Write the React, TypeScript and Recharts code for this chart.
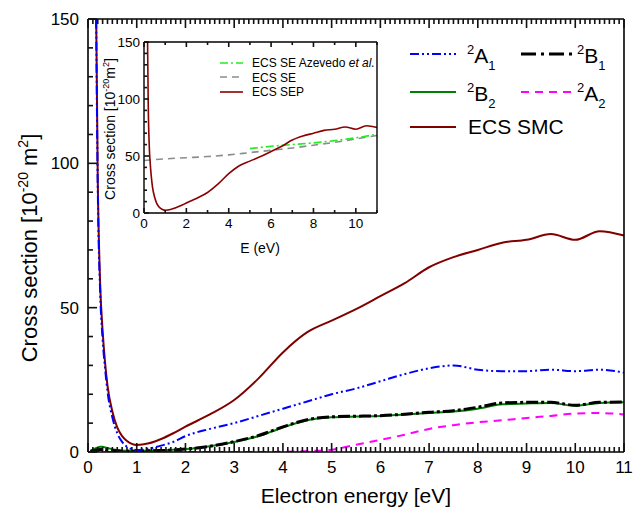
import { LineChart, Line, XAxis, YAxis } from 'recharts'

const FONT = '"Liberation Sans", Arial, Helvetica, sans-serif'

// main panel: energy grid (eV) and cross sections (10^-20 m^2)
const ENERGY = [0.05, 0.16, 0.2, 0.25, 0.3, 0.35, 0.4, 0.5, 0.6, 0.7, 0.8, 0.9, 1.0, 1.25, 1.5, 1.75, 2, 2.5, 3, 3.5, 4, 4.5, 5, 5.5, 6, 6.5, 7, 7.5, 8, 8.5, 9, 9.5, 10, 10.5, 11]
const ECS_SMC = [null, 165, 95, 58, 42, 31, 23, 14, 8.5, 5.5, 3.8, 2.8, 2.4, 3.0, 4.5, 6.5, 8.8, 13, 18, 25.5, 34.5, 41.5, 45.5, 49.5, 54, 58.5, 64, 67.5, 70, 72.5, 73.5, 75.5, 73.5, 76.5, 75]
const A1 = [null, 165, 92, 55, 39, 29, 21, 12, 6.5, 3.5, 1.8, 1.0, 0.7, 1.2, 2.2, 3.5, 5.5, 8, 10, 12.5, 15, 17.5, 20, 22, 24.5, 27, 29, 30, 28.5, 28, 28, 28.5, 28, 28.5, 27.5]
const B1 = [0.2, 0.6, 0.8, 0.9, 0.9, 0.8, 0.7, 0.5, 0.4, 0.3, 0.3, 0.3, 0.3, 0.4, 0.5, 0.7, 1.0, 2.0, 3.6, 5.7, 8.7, 11.2, 12.2, 12.4, 12.6, 13.1, 13.8, 14.3, 15.5, 17, 17.2, 17.2, 16.2, 17.2, 17.3]
const B2 = [0.5, 1.3, 1.6, 1.8, 1.8, 1.6, 1.4, 1.0, 0.7, 0.5, 0.4, 0.4, 0.4, 0.5, 0.6, 0.8, 1.0, 2.0, 3.5, 5.5, 8.5, 11, 12, 12.3, 12.5, 13, 13.5, 14, 15, 16.5, 16.8, 17, 16, 17, 17.2]
const A2 = [0, 0, 0, 0, 0, 0, 0, 0, 0, 0, 0, 0, 0, 0, 0, 0, 0, 0, 0, 0, 0.1, 0.3, 0.8, 2.5, 4.2, 6, 8, 9.3, 10.3, 11, 11.8, 12.5, 13.3, 13.5, 13]

// inset: static-exchange results
const SE_ENERGY = [0, 1, 2, 3, 4, 5, 6, 7, 8, 9, 10, 11]
const ECS_SE = [46, 47.5, 48.5, 49.5, 51, 53, 55, 57, 59.5, 62, 65, 68]
const AZ_ENERGY = [5, 6, 7, 8, 9, 10, 11]
const ECS_SE_AZEVEDO = [56.5, 58.5, 60, 61.5, 63.5, 66, 69]

const MAIN_X_LABELS = [0, 1, 2, 3, 4, 5, 6, 7, 8, 9, 10, 11]
const MAIN_Y_LABELS = [0, 50, 100, 150]
const INSET_X_LABELS = [0, 2, 4, 6, 8, 10]
const INSET_Y_LABELS = [0, 50, 100, 150]

const steps = (max: number, step: number) =>
  Array.from({ length: Math.round(max / step) + 1 }, (_, i) => +(i * step).toFixed(2))

const MAIN_X_TICKS = steps(11, 0.1)
const MAIN_Y_TICKS = steps(150, 10)
const INSET_X_TICKS = steps(11, 1)
const INSET_Y_TICKS = steps(150, 10)

const mainData = ENERGY.map((e, i) => ({ e, smc: ECS_SMC[i], a1: A1[i], b1: B1[i], b2: B2[i], a2: A2[i] }))
const seData = SE_ENERGY.map((e, i) => ({ e, se: ECS_SE[i] }))
const azData = AZ_ENERGY.map((e, i) => ({ e, az: ECS_SE_AZEVEDO[i] }))

type Side = 'bottom' | 'top' | 'left' | 'right'

// draws an inward tick for every entry, with a label on majors (bottom/left only)
const tick = (side: Side, labels: number[], minor: number, major: number, fontSize: number, gap: number) =>
  (props: any) => {
    const v = Number(props.payload.value)
    const isMajor = labels.some((l) => Math.abs(l - v) < 1e-6)
    const x = Number(props.x)
    const y = Number(props.y)
    const len = isMajor ? major : minor
    const w = 1.6
    let r
    if (side === 'bottom') r = { x: x - w / 2, y: y - len, width: w, height: len }
    else if (side === 'top') r = { x: x - w / 2, y, width: w, height: len }
    else if (side === 'left') r = { x, y: y - w / 2, width: len, height: w }
    else r = { x: x - len, y: y - w / 2, width: len, height: w }
    return (
      <g className="axis-tick">
        <rect x={r.x} y={r.y} width={r.width} height={r.height} fill="#111" stroke="none" />
        {isMajor && side === 'bottom' && (
          <text x={x} y={y + gap + fontSize * 0.72} textAnchor="middle" fontSize={fontSize} fill="#000">{v}</text>
        )}
        {isMajor && side === 'left' && (
          <text x={x - gap} y={y + fontSize * 0.36} textAnchor="end" fontSize={fontSize} fill="#000">{v}</text>
        )}
      </g>
    )
  }

function Inset() {
  const axisLine = { stroke: '#000', strokeWidth: 1.4 }
  const common = { interval: 0 as const, tickSize: 0, tickMargin: 0, tickLine: false, axisLine }
  return (
    <LineChart width={300} height={240} data={mainData} margin={{ top: 16, right: 12, bottom: 22, left: 14 }}>
      <XAxis xAxisId="b" dataKey="e" type="number" domain={[0, 11]} ticks={INSET_X_TICKS} height={30} tick={tick('bottom', INSET_X_LABELS, 3, 5, 13.5, 5)} {...common} />
      <XAxis xAxisId="t" orientation="top" dataKey="e" type="number" domain={[0, 11]} ticks={INSET_X_TICKS} height={1} tick={tick('top', INSET_X_LABELS, 3, 5, 13.5, 5)} {...common} />
      <YAxis yAxisId="l" type="number" domain={[0, 150]} allowDataOverflow ticks={INSET_Y_TICKS} width={40} tick={tick('left', INSET_Y_LABELS, 3, 5, 13.5, 4)} {...common} />
      <YAxis yAxisId="r" orientation="right" type="number" domain={[0, 150]} ticks={INSET_Y_TICKS} width={1} tick={tick('right', INSET_Y_LABELS, 3, 5, 13.5, 4)} {...common} />
      <Line xAxisId="b" yAxisId="l" data={seData} dataKey="se" type="monotone" stroke="#8c8c8c" strokeWidth={1.6} strokeDasharray="7 5" dot={false} isAnimationActive={false} />
      <Line xAxisId="b" yAxisId="l" data={azData} dataKey="az" type="monotone" stroke="#22ee22" strokeWidth={1.6} strokeDasharray="8 3 2 3" dot={false} isAnimationActive={false} />
      <Line xAxisId="b" yAxisId="l" dataKey="smc" type="monotone" stroke="#8b0000" strokeWidth={1.6} dot={false} isAnimationActive={false} />
    </LineChart>
  )
}

export default function App() {
  const axisLine = { stroke: '#000', strokeWidth: 1.6 }
  const common = { interval: 0 as const, tickSize: 0, tickMargin: 0, tickLine: false, axisLine }
  return (
    <div style={{ position: 'absolute', left: 0, top: 0, width: 634, height: 514, background: '#fff', fontFamily: FONT }}>
      <div style={{ position: 'absolute', left: 0, top: 0 }}>
        <LineChart width={634} height={514} data={mainData} margin={{ top: 18, right: 9, bottom: 22, left: 28 }}>
          <XAxis xAxisId="b" dataKey="e" type="number" domain={[0, 11]} ticks={MAIN_X_TICKS} height={40} tick={tick('bottom', MAIN_X_LABELS, 5, 9, 17, 9)} {...common} />
          <XAxis xAxisId="t" orientation="top" dataKey="e" type="number" domain={[0, 11]} ticks={MAIN_X_TICKS} height={1} tick={tick('top', MAIN_X_LABELS, 5, 9, 17, 9)} {...common} />
          <YAxis yAxisId="l" type="number" domain={[0, 150]} allowDataOverflow ticks={MAIN_Y_TICKS} width={60} tick={tick('left', MAIN_Y_LABELS, 5, 9, 17, 9)} {...common} />
          <YAxis yAxisId="r" orientation="right" type="number" domain={[0, 150]} ticks={MAIN_Y_TICKS} width={1} tick={tick('right', MAIN_Y_LABELS, 5, 9, 17, 9)} {...common} />
          <Line xAxisId="b" yAxisId="l" dataKey="smc" type="monotone" stroke="#800000" strokeWidth={2} dot={false} isAnimationActive={false} />
          <Line xAxisId="b" yAxisId="l" dataKey="b2" type="monotone" stroke="#008000" strokeWidth={2} dot={false} isAnimationActive={false} />
          <Line xAxisId="b" yAxisId="l" dataKey="b1" type="monotone" stroke="#000" strokeWidth={3} strokeDasharray="12 3 3 3" dot={false} isAnimationActive={false} />
          <Line xAxisId="b" yAxisId="l" dataKey="a2" type="monotone" stroke="#ff00ff" strokeWidth={2} strokeDasharray="8 6" dot={false} isAnimationActive={false} />
          <Line xAxisId="b" yAxisId="l" dataKey="a1" type="monotone" stroke="#0000ff" strokeWidth={2} strokeDasharray="9 3 2 3 2 3" dot={false} isAnimationActive={false} />
        </LineChart>
      </div>
      <div style={{ position: 'absolute', left: 90, top: 25 }}>
        <Inset />
      </div>
      <svg width={634} height={514} style={{ position: 'absolute', left: 0, top: 0, pointerEvents: 'none' }} fontFamily={FONT} fill="#000">
        {/* main axis titles */}
        <text transform="rotate(-90)" x={-248} y={37} textAnchor="middle" fontSize={22}>
          Cross section [10<tspan fontSize={14} dy={-9}>-20</tspan><tspan dy={9}> m</tspan><tspan fontSize={14} dy={-9}>2</tspan><tspan dy={9}>]</tspan>
        </text>
        <text x={356} y={503} textAnchor="middle" fontSize={21}>Electron energy [eV]</text>

        {/* main legend */}
        <line x1={410} x2={456} y1={54} y2={54} stroke="#0000ff" strokeWidth={2} strokeDasharray="9 3 2 3 2 3" />
        <text x={467} y={62.5} fontSize={21}><tspan fontSize={13} dy={-9}>2</tspan><tspan dy={9}>A</tspan><tspan fontSize={13} dy={7}>1</tspan></text>
        <line x1={521} x2={572} y1={54} y2={54} stroke="#000" strokeWidth={3} strokeDasharray="15 5 3 5" />
        <text x={577} y={62.5} fontSize={21}><tspan fontSize={13} dy={-9}>2</tspan><tspan dy={9}>B</tspan><tspan fontSize={13} dy={7}>1</tspan></text>
        <line x1={410} x2={456} y1={92} y2={92} stroke="#008000" strokeWidth={2} />
        <text x={467} y={101} fontSize={21}><tspan fontSize={13} dy={-9}>2</tspan><tspan dy={9}>B</tspan><tspan fontSize={13} dy={7}>2</tspan></text>
        <line x1={521} x2={572} y1={92} y2={92} stroke="#ff00ff" strokeWidth={2} strokeDasharray="8 6" />
        <text x={577} y={101} fontSize={21}><tspan fontSize={13} dy={-9}>2</tspan><tspan dy={9}>A</tspan><tspan fontSize={13} dy={7}>2</tspan></text>
        <line x1={410} x2={456} y1={127} y2={127} stroke="#800000" strokeWidth={2} />
        <text x={468} y={134} fontSize={21}>ECS SMC</text>

        {/* inset axis titles */}
        <text transform="rotate(-90)" x={-129} y={115} textAnchor="middle" fontSize={14}>
          Cross section [10<tspan fontSize={9} dy={-6}>-20</tspan><tspan dy={6}>m</tspan><tspan fontSize={9} dy={-6}>2</tspan><tspan dy={6}>]</tspan>
        </text>
        <text x={260} y={253} textAnchor="middle" fontSize={14}>E (eV)</text>

        {/* inset legend */}
        <line x1={220} x2={243} y1={63} y2={63} stroke="#22ee22" strokeWidth={1.6} strokeDasharray="8 3 2 3" />
        <text x={252} y={67} fontSize={12}>ECS SE Azevedo <tspan fontStyle="italic">et al.</tspan></text>
        <line x1={220} x2={243} y1={77} y2={77} stroke="#8c8c8c" strokeWidth={1.6} strokeDasharray="7 5" />
        <text x={252} y={81.5} fontSize={12}>ECS SE</text>
        <line x1={220} x2={243} y1={92} y2={92} stroke="#8b0000" strokeWidth={1.6} />
        <text x={252} y={96} fontSize={12}>ECS SEP</text>
      </svg>
    </div>
  )
}
